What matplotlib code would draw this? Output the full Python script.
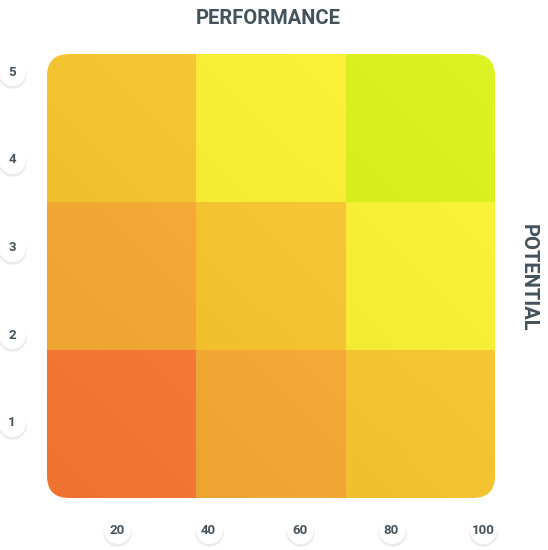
import numpy as np
import matplotlib.pyplot as plt
from matplotlib.patches import FancyBboxPatch
from matplotlib.colors import to_rgb
import matplotlib.transforms as mtransforms

plt.rcParams['font.family'] = ['Roboto', 'DejaVu Sans']

# 3x3 grid: rows = potential (bottom -> top), cols = performance (left -> right)
performance_ticks = [20, 40, 60, 80, 100]
potential_ticks = [1, 2, 3, 4, 5]
scores = [
    [1, 2, 3],   # low potential
    [2, 3, 4],   # medium potential
    [3, 4, 5],   # high potential
]
score_colors = {1: '#F37533', 2: '#F1A733', 3: '#F3C331', 4: '#F6EF35', 5: '#DAF11F'}

text_color = '#44525C'

fig = plt.figure(figsize=(5.48, 5.5), dpi=100)
W, H = 548, 550
left_px, right_px, top_px, bot_px = 47, 495, 54, 498
ax = fig.add_axes([left_px / W, 1 - bot_px / H, (right_px - left_px) / W, (bot_px - top_px) / H])
ax.set_xlim(0, 3)
ax.set_ylim(0, 3)
ax.axis('off')

# build image with a faint diagonal sheen inside each cell
n = 150
img = np.zeros((3 * n, 3 * n, 3))
u = np.linspace(0, 1, n)
t = (u[None, :] + u[::-1, None]) / 2  # 0 bottom-left .. 1 top-right
for r in range(3):
    for c in range(3):
        base = np.array(to_rgb(score_colors[scores[r][c]]))
        cell = np.clip(base[None, None, :] + 0.025 * (t[:, :, None] - 0.5), 0, 1)
        row_slice = slice((2 - r) * n, (3 - r) * n)
        img[row_slice, c * n:(c + 1) * n] = cell

im = ax.imshow(img, extent=(0, 3, 0, 3), origin='upper', interpolation='nearest', aspect='auto')
rad = 22 / 148
clip = FancyBboxPatch((0, 0), 3, 3, boxstyle=f'round,pad=0,rounding_size={rad}',
                      transform=ax.transData, facecolor='none', edgecolor='none')
ax.add_patch(clip)
im.set_clip_path(clip)

# tick labels in white bubbles
tax = fig.add_axes(ax.get_position(), frameon=False)
tax.set_xlim(20 - 70 / 4.575, 100 + 12 / 4.575)
tax.set_ylim(1 - 75 / 87.75, 5 + 18 / 87.75)
tax.set_xticks([])
tax.set_yticks([])


def bubble(x, y, label, trans):
    shadow = mtransforms.offset_copy(trans, fig=fig, x=0, y=-2, units='dots')
    tax.plot([x], [y], 'o', ms=20.5, mfc='black', mec='none', alpha=0.08,
             transform=shadow, clip_on=False)
    tax.plot([x], [y], 'o', ms=19.5, mfc='white', mec='none',
             transform=trans, clip_on=False)
    tax.text(x, y, label, transform=trans, ha='center', va='center', fontsize=9.5,
             fontweight='bold', color=text_color, clip_on=False)


xtrans = mtransforms.blended_transform_factory(tax.transData, fig.transFigure)
for v in performance_ticks:
    bubble(v, 1 - 530 / H, str(v), xtrans)

ytrans = mtransforms.blended_transform_factory(fig.transFigure, tax.transData)
for v in potential_ticks:
    bubble(12 / W, v, str(v), ytrans)

fig.text(268 / W, 1 - 18 / H, 'PERFORMANCE', ha='center', va='center', fontsize=14.5,
         fontweight='bold', color=text_color)
fig.text(528 / W, 1 - 278 / H, 'POTENTIAL', ha='center', va='center', fontsize=14.5,
         fontweight='bold', color=text_color, rotation=270)

fig.savefig('out.png', dpi=100, facecolor='white')
